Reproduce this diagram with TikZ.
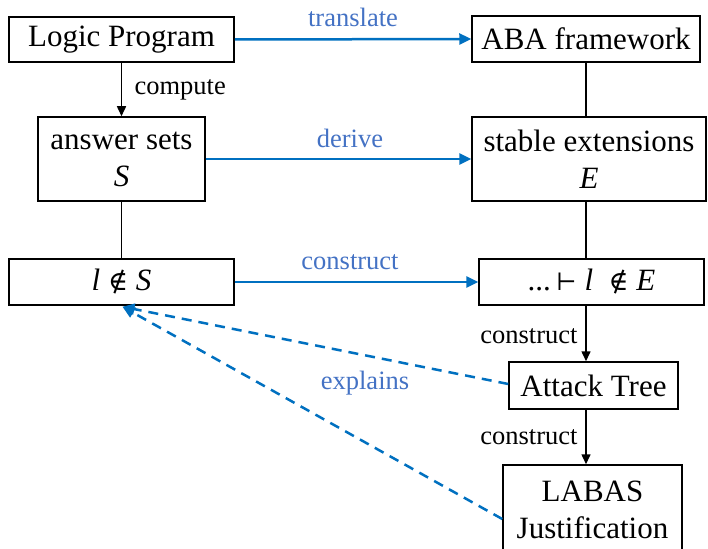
\documentclass[tikz,border=0pt]{standalone}
\usepackage{fontspec}
\setmainfont{Liberation Serif}
\newfontfamily\tnr{Liberation Serif}
\newfontfamily\symf{DejaVu Serif}
\usetikzlibrary{arrows.meta,calc}
\definecolor{arrblue}{RGB}{0,112,192}
\definecolor{lblblue}{RGB}{68,114,196}
\begin{document}
\begin{tikzpicture}[x=1pt,y=1pt,
  box/.style={draw=black,line width=1.5pt,fill=white,inner sep=0pt,align=center,
    font=\tnr\fontsize{31}{37}\selectfont},
  blk/.style={draw=black,line width=1.5pt},
  blkarr/.style={blk,-{Triangle[length=10pt,width=9pt]}},
  bluearr/.style={draw=arrblue,line width=2.5pt,-{Triangle[length=12pt,width=11pt]}},
  dasharr/.style={draw=arrblue,line width=2.5pt,dash pattern=on 10pt off 7pt,-{Triangle[length=12pt,width=11pt]}},
  blbl/.style={text=lblblue,font=\tnr\fontsize{26.5}{30}\selectfont},
  klbl/.style={text=black,font=\tnr\fontsize{26.5}{30}\selectfont}]
\useasboundingbox (0,0) rectangle (708,-548);
\node[box,minimum width=225pt,minimum height=45pt] (lp) at (121.5,-39.5) {Logic Program};
\node[box,minimum width=228pt,minimum height=46pt] (aba) at (586,-39) {ABA framework};
\node[box,minimum width=167pt,minimum height=84pt] (as) at (121.5,-159) {answer sets\\\textit{S}};
\node[box,minimum width=234pt,minimum height=84pt] (se) at (589,-159) {stable extensions\\\textit{E}};
\node[box,minimum width=225pt,minimum height=46pt] (ls) at (121.5,-282) {\textit{l} {\symf\fontsize{27}{30}\selectfont ∉} \textit{S}};
\node[box,minimum width=225pt,minimum height=46pt] (le) at (591.5,-282) {...\,{\symf\fontsize{24}{30}\selectfont ⊢} \textit{l}\enspace{\symf\fontsize{27}{30}\selectfont ∉} \textit{E}};
\node[box,minimum width=169pt,minimum height=47pt] (at) at (593.5,-385.5) {Attack Tree};
\node[box,minimum width=179pt,minimum height=90pt] (lj) at (592.5,-510) {LABAS\\Justification};
% black connectors
\draw[blkarr] (lp.south) -- (as.north);
\draw[blk] (as.south) -- (ls.north);
\draw[blk] (aba.south) -- (aba.south |- se.north);
\draw[blk] (aba.south |- se.south) -- (aba.south |- le.north);
\draw[blkarr] (aba.south |- le.south) -- (aba.south |- at.north);
\draw[blkarr] (aba.south |- at.south) -- (aba.south |- lj.north);
% blue connectors
\draw[bluearr] (lp.east) -- (aba.west);
\draw[bluearr] (as.east) -- (as.east -| se.west);
\draw[bluearr] (ls.east) -- (le.west);
\coordinate (atw) at ($(at.west)+(0,1.5)$);
\coordinate (ljw) at ($(lj.west)+(0,-9)$);
\coordinate (tip) at ($(ls.south)+(1,-1)$);
\draw[dasharr] (atw) -- (tip);
\draw[dasharr] (ljw) -- (tip);
% labels
\node[klbl,anchor=west] (lcomp) at (131,-90) {compute};
\node[blbl] (ltr) at (353,-17) {translate};
\node[blbl] (lde) at (350,-138) {derive};
\node[blbl] (lco) at (350,-262) {construct};
\node[blbl] (lex) at (365,-383) {explains};
\node[klbl,anchor=east] (lc1) at (581,-336) {construct};
\node[klbl,anchor=east] (lc2) at (581,-437) {construct};
\end{tikzpicture}
\end{document}
